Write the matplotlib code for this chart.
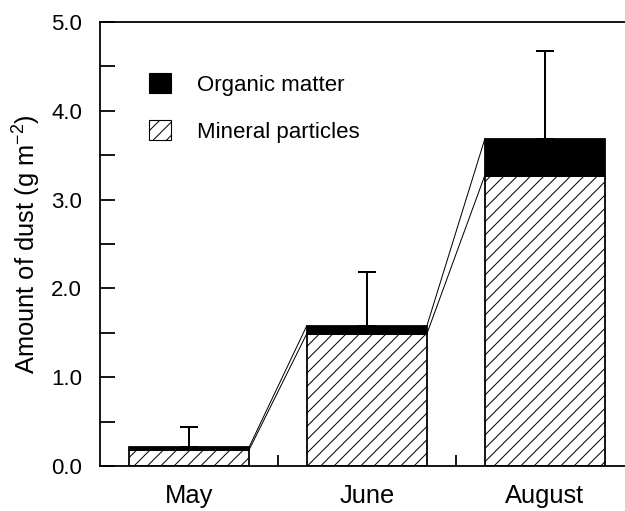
#!/usr/bin/env python

import matplotlib
matplotlib.use('Agg')
import matplotlib.pyplot as plt
import numpy as np
from matplotlib.patches import Patch
from matplotlib.ticker import MultipleLocator, FixedLocator

plt.rcParams['font.family'] = 'Liberation Sans'
plt.rcParams['font.size'] = 20
plt.rcParams['mathtext.fontset'] = 'custom'
plt.rcParams['mathtext.rm'] = 'Liberation Sans'
plt.rcParams['hatch.linewidth'] = 0.9

BAR_WIDTH = 0.675

# dust collected per month (g m-2)
months = ['May', 'June', 'August']
mineral = [0.18, 1.49, 3.27]
organic = [0.03, 0.09, 0.41]
error_up = [0.23, 0.60, 0.99]

xs = np.arange(len(months))
total = [m + o for m, o in zip(mineral, organic)]

fig = plt.figure(figsize=(625 / 80, 511 / 80), dpi=80)
ax = fig.add_axes([0.16, 0.0881, 0.854, 0.869])

ax.bar(xs, mineral, width=BAR_WIDTH, color='white', edgecolor='black',
       linewidth=1.6, hatch='//', zorder=2)
ax.bar(xs, organic, bottom=mineral, width=BAR_WIDTH, color='black',
       edgecolor='black', linewidth=1.6, zorder=2)
ax.errorbar(xs, total, yerr=[np.zeros(len(xs)), error_up], fmt='none',
            ecolor='black', elinewidth=1.8, capsize=8, capthick=1.8, zorder=1)

# thin lines joining the tops of neighbouring bars
half = BAR_WIDTH / 2
for i in range(len(xs) - 1):
    for series in (mineral, total):
        ax.plot([xs[i] + half, xs[i + 1] - half], [series[i], series[i + 1]],
                color='black', linewidth=0.9, zorder=1)

ax.set_xlim(-0.5, 2.5)
ax.set_ylim(0, 5)
ax.set_xticks(xs)
ax.set_xticklabels(months, fontsize=23)
ax.xaxis.set_minor_locator(FixedLocator([0.5, 1.5]))
ax.tick_params(axis='x', which='major', length=0, pad=16)
ax.tick_params(axis='x', which='minor', direction='in', length=10, width=1.6)
ax.yaxis.set_major_locator(MultipleLocator(1.0))
ax.yaxis.set_minor_locator(MultipleLocator(0.5))
ax.set_yticklabels([f'{v:.1f}' for v in ax.get_yticks()])
ax.tick_params(axis='y', which='both', direction='in', length=13.5, width=1.6, pad=16)
ax.spines['right'].set_visible(False)
for side in ('left', 'bottom', 'top'):
    ax.spines[side].set_linewidth(1.6)

ax.set_ylabel('Amount of dust (g m$^{-2}$)', fontsize=23, labelpad=8)

handles = [Patch(facecolor='black', edgecolor='black', label='Organic matter'),
           Patch(facecolor='white', edgecolor='black', hatch='//', label='Mineral particles')]
ax.legend(handles=handles, loc='upper left', bbox_to_anchor=(0.075, 0.905),
          frameon=False, handlelength=1.0, handleheight=1.0,
          handletextpad=1.15, labelspacing=1.1, borderaxespad=0)

fig.savefig('out.png', dpi=80)
